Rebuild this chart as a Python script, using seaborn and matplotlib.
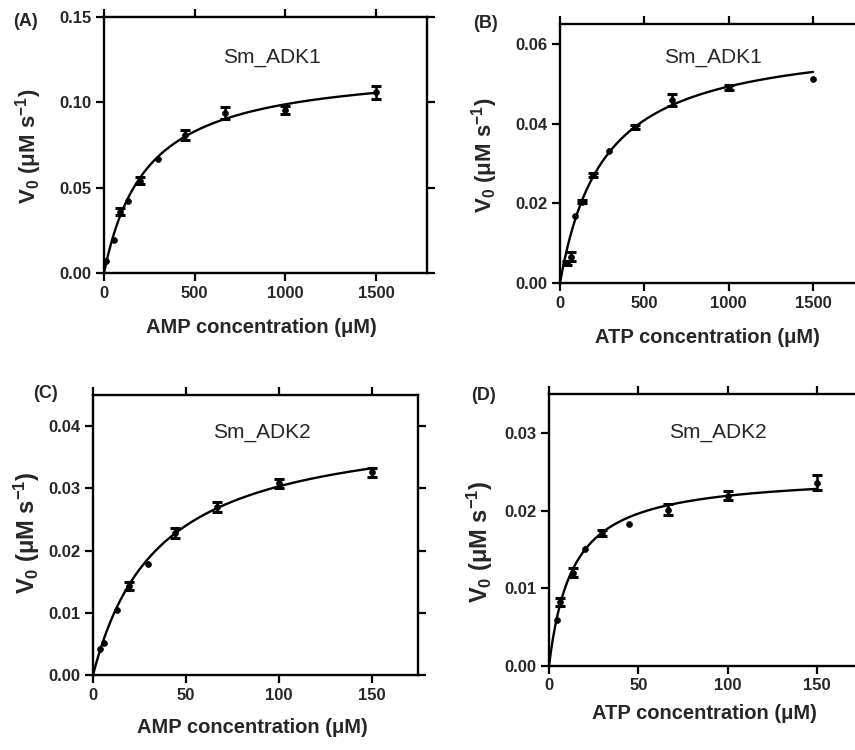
import numpy as np
import pandas as pd
import matplotlib
matplotlib.use("Agg")
import matplotlib.pyplot as plt
import seaborn as sns

sns.set_theme(style="ticks")
plt.rcParams['font.family'] = ['Liberation Sans', 'DejaVu Sans']
plt.rcParams['mathtext.fontset'] = 'custom'
plt.rcParams['mathtext.rm'] = 'Liberation Sans'
plt.rcParams['mathtext.bf'] = 'Liberation Sans:bold'
plt.rcParams['mathtext.default'] = 'bf'

# (A) Sm_ADK1, AMP varied
amp1_conc = [11, 55, 89, 131, 197, 295, 445, 665, 1000, 1500]
amp1_v = [0.0070, 0.0193, 0.0360, 0.0420, 0.0540, 0.0670, 0.0810, 0.0940, 0.0955, 0.1060]
amp1_err = [0, 0, 0.0020, 0, 0.0020, 0, 0.0028, 0.0035, 0.0022, 0.0038]
amp1_km, amp1_vmax = 236, 0.1222

# (B) Sm_ADK1, ATP varied
atp1_conc = [40, 63, 89, 128, 198, 292, 445, 666, 1000, 1500]
atp1_v = [0.0049, 0.0066, 0.0168, 0.0204, 0.0271, 0.0332, 0.0392, 0.0459, 0.0491, 0.0512]
atp1_err = [0.0005, 0.0011, 0, 0.0004, 0.0006, 0, 0.0005, 0.0015, 0.0007, 0]
atp1_km, atp1_vmax = 261, 0.0622

# (C) Sm_ADK2, AMP varied
amp2_conc = [3.8, 5.9, 13, 19.5, 29.5, 44.4, 66.6, 100, 150]
amp2_v = [0.0042, 0.0052, 0.0105, 0.0143, 0.0179, 0.0228, 0.0270, 0.0308, 0.0326]
amp2_err = [0, 0, 0, 0.0006, 0, 0.0008, 0.0008, 0.0007, 0.0007]
amp2_km, amp2_vmax = 35.6, 0.0411

# (D) Sm_ADK2, ATP varied
atp2_conc = [4.3, 6.2, 13.3, 20, 29.8, 44.6, 66.7, 100, 150]
atp2_v = [0.0059, 0.0082, 0.0120, 0.0150, 0.0171, 0.0183, 0.0201, 0.0219, 0.0236]
atp2_err = [0, 0.0005, 0.0006, 0, 0.0004, 0, 0.0007, 0.0006, 0.0010]
atp2_km, atp2_vmax = 13.2, 0.0248

W, H = 855, 750
fig = plt.figure(figsize=(W / 100, H / 100), dpi=100)


def px_axes(left, top, right, bottom):
    return fig.add_axes([left / W, 1 - bottom / H, (right - left) / W, (bottom - top) / H])


def panel(ax, conc, v, err, km, vmax, xmax, ylim, yticks, xticks, name, nx, ny, substrate,
          xl_pos, yl_pos, yl_size):
    df = pd.DataFrame({"conc": conc, "v": v, "err": err})
    # fitted Michaelis-Menten curve (Km, Vmax)
    xfit = np.linspace(0, max(conc), 400)
    fit = pd.DataFrame({"conc": xfit, "v": vmax * xfit / (km + xfit)})
    sns.lineplot(data=fit, x="conc", y="v", color="black", linewidth=1.7, ax=ax)
    bars = df[df["err"] > 0]
    ax.errorbar(bars["conc"], bars["v"], yerr=bars["err"], fmt="none", ecolor="black",
                elinewidth=1.8, capsize=3.3, capthick=2.2)
    sns.scatterplot(data=df, x="conc", y="v", color="black", s=18, edgecolor="black",
                    linewidth=0.5, ax=ax, zorder=3)
    ax.set_xlim(0, xmax)
    ax.set_ylim(*ylim)
    ax.set_xticks(xticks)
    ax.set_yticks(yticks)
    ax.set_yticklabels([f"{t:.2f}" for t in yticks])
    ax.tick_params(which="both", direction="out", top=True, right=True, labeltop=False,
                   labelright=False, length=6, width=1.6, color="black", pad=3)
    for lab in ax.get_xticklabels() + ax.get_yticklabels():
        lab.set_fontsize(12)
        lab.set_fontweight("bold")
    for sp in ax.spines.values():
        sp.set_linewidth(1.7)
        sp.set_color("black")
        sp.set_clip_on(False)
    ax.set_xlabel(f"{substrate} concentration (μM)", fontsize=14.5, fontweight="bold")
    ax.set_ylabel(r"V$_0$ ($\mu$M s$^{-1}$)", fontsize=yl_size, fontweight="bold")
    ax.xaxis.set_label_coords(*xl_pos)
    ax.xaxis.label.set_va("center")
    ax.yaxis.set_label_coords(*yl_pos)
    ax.yaxis.label.set_va("center")
    ax.text(nx, ny, name, fontsize=15, ha="center", va="center")


axA = px_axes(104, 17, 427, 273)
panel(axA, amp1_conc, amp1_v, amp1_err, amp1_km, amp1_vmax, 1780, (0, 0.15),
      [0.00, 0.05, 0.10, 0.15], [0, 500, 1000, 1500], "Sm_ADK1", 924, 0.1265, "AMP",
      (0.486, -0.211), (-0.235, 0.496), 16)

axB = px_axes(560, 24, 855 + 2, 283)
panel(axB, atp1_conc, atp1_v, atp1_err, atp1_km, atp1_vmax, 1760, (0, 0.065),
      [0.00, 0.02, 0.04, 0.06], [0, 500, 1000, 1500], "Sm_ADK1", 907, 0.0565, "ATP",
      (0.495, -0.212), (-0.254, 0.494), 16)

axC = px_axes(93, 395, 418, 675)
panel(axC, amp2_conc, amp2_v, amp2_err, amp2_km, amp2_vmax, 175, (0, 0.045),
      [0.00, 0.01, 0.02, 0.03, 0.04], [0, 50, 100, 150], "Sm_ADK2", 91, 0.039, "AMP",
      (0.489, -0.186), (-0.203, 0.507), 17)

axD = px_axes(549, 394, 862, 666)
panel(axD, atp2_conc, atp2_v, atp2_err, atp2_km, atp2_vmax, 175, (0, 0.035),
      [0.00, 0.01, 0.02, 0.03], [0, 50, 100, 150], "Sm_ADK2", 94.6, 0.0301, "ATP",
      (0.498, -0.173), (-0.22, 0.456), 17)

for lab, (x, y) in zip(["(A)", "(B)", "(C)", "(D)"], [(25, 21), (485, 23), (45, 394), (484, 396)]):
    fig.text(x / W, 1 - y / H, lab, fontsize=13, fontweight="bold", ha="center", va="center")

fig.savefig("out.png", dpi=100)
